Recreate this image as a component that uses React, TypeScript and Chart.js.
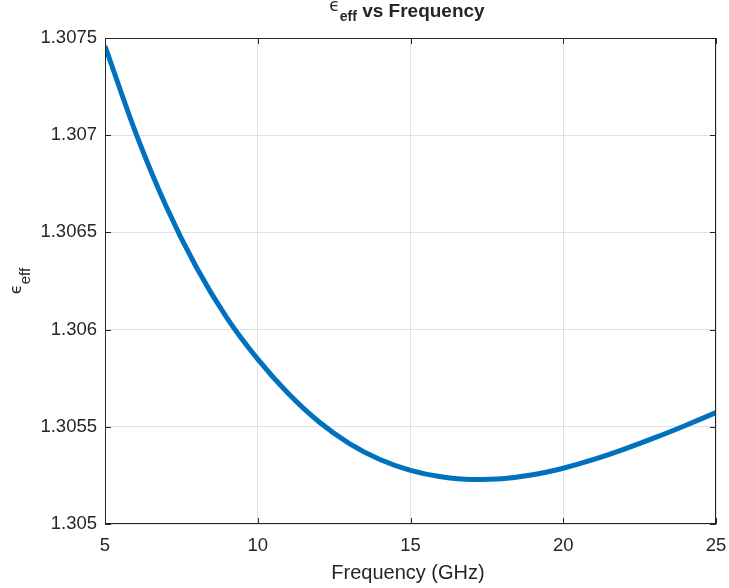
import { useEffect, useRef } from 'react';
import { Chart, registerables } from 'chart.js';

Chart.register(...registerables);

// Data
const frequencyGHz = [5, 6, 7, 8, 9, 10, 11, 12, 13, 14, 15, 16, 17, 18, 19, 20, 21, 22, 23, 24, 25];
const epsilonEff = [
  1.307459, 1.307015, 1.306635, 1.306318, 1.306058, 1.305848, 1.305671, 1.305526, 1.305414, 1.305332,
  1.305276, 1.305243, 1.305229, 1.305233, 1.305253, 1.305287, 1.305332, 1.305385, 1.305444, 1.305507,
  1.305573,
];
const xTickValues = [5, 10, 15, 20, 25];
const xTickLabels = ['5', '10', '15', '20', '25'];
const yTickValues = [1.305, 1.3055, 1.306, 1.3065, 1.307, 1.3075];
const yTickLabels = ['1.305', '1.3055', '1.306', '1.3065', '1.307', '1.3075'];

const FONT = "'Liberation Sans', Arial, Helvetica, sans-serif";
const TEXT = '#262626';

const decorPlugin = {
  id: 'matlabDecor',
  afterDraw(chart: any) {
    const { ctx, chartArea } = chart;
    const { left, right, top, bottom } = chartArea;
    const xs = chart.scales.x;
    const ys = chart.scales.y;
    ctx.save();
    // box
    ctx.strokeStyle = '#262626';
    ctx.lineWidth = 1;
    ctx.strokeRect(left + 0.5, top + 0.5, right - left - 1, bottom - top - 1);
    // inward ticks
    const tl = 6;
    ctx.beginPath();
    xTickValues.forEach((v) => {
      const px = Math.round(xs.getPixelForValue(v)) + 0.5;
      ctx.moveTo(px, bottom);
      ctx.lineTo(px, bottom - tl);
      ctx.moveTo(px, top);
      ctx.lineTo(px, top + tl);
    });
    yTickValues.forEach((v) => {
      const py = Math.round(ys.getPixelForValue(v)) + 0.5;
      ctx.moveTo(left, py);
      ctx.lineTo(left + tl, py);
      ctx.moveTo(right, py);
      ctx.lineTo(right - tl, py);
    });
    ctx.stroke();

    ctx.fillStyle = TEXT;
    ctx.textBaseline = 'alphabetic';
    ctx.textAlign = 'left';

    // title: eps_eff vs Frequency
    const epsFont = `17px 'DejaVu Sans', ${FONT}`;
    const subFont = `bold 14px ${FONT}`;
    const mainFont = `bold 19px ${FONT}`;
    ctx.font = epsFont;
    const wE = ctx.measureText('ϵ').width;
    ctx.font = subFont;
    const wS = ctx.measureText('eff').width;
    ctx.font = mainFont;
    const rest = ' vs Frequency';
    const wR = ctx.measureText(rest).width;
    const total = wE + wS + wR;
    let sx = 407 - total / 2;
    ctx.font = epsFont;
    ctx.fillText('ϵ', sx, 11);
    sx += wE;
    ctx.font = subFont;
    ctx.fillText('eff', sx, 21);
    sx += wS;
    ctx.font = mainFont;
    ctx.fillText(rest, sx, 17);

    // x label
    ctx.font = `20px ${FONT}`;
    ctx.textAlign = 'center';
    ctx.fillText('Frequency (GHz)', 408, 579);

    // y label (rotated)
    ctx.textAlign = 'left';
    const cy = (top + bottom) / 2;
    ctx.translate(0, cy);
    ctx.rotate(-Math.PI / 2);
    const yEpsFont = `16px 'DejaVu Sans', ${FONT}`;
    const ySubFont = `15px ${FONT}`;
    ctx.font = yEpsFont;
    const ywE = ctx.measureText('ϵ').width;
    ctx.font = ySubFont;
    const ywS = ctx.measureText('eff').width;
    let u = -(ywE + ywS) / 2;
    ctx.font = yEpsFont;
    ctx.fillText('ϵ', u, 21);
    u += ywE;
    ctx.font = ySubFont;
    ctx.fillText('eff', u, 30);
    ctx.restore();
  },
};

export default function App() {
  const canvasRef = useRef<HTMLCanvasElement | null>(null);

  useEffect(() => {
    document.body.style.margin = '0';
    const canvas = canvasRef.current;
    if (!canvas) return;
    const points = frequencyGHz.map((f, i) => ({ x: f, y: epsilonEff[i] }));
    const tickFont = { family: FONT, size: 18.5 };
    const chart = new Chart(canvas, {
      type: 'line',
      data: {
        datasets: [
          {
            data: points,
            borderColor: '#0072BD',
            backgroundColor: '#0072BD',
            borderWidth: 5,
            pointRadius: 0,
            fill: false,
            cubicInterpolationMode: 'monotone',
          },
        ],
      },
      options: {
        animation: false,
        responsive: false,
        devicePixelRatio: 1,
        layout: { padding: { left: 0, right: 13, top: 38, bottom: 0 } },
        plugins: {
          legend: { display: false },
          title: { display: false },
          tooltip: { enabled: false },
        },
        scales: {
          x: {
            type: 'linear',
            min: 5,
            max: 25,
            afterFit(scale: any) {
              scale.height = 64;
              scale.paddingLeft = 0;
              scale.paddingRight = 0;
            },
            afterBuildTicks(scale: any) {
              scale.ticks = xTickValues.map((v) => ({ value: v }));
            },
            ticks: {
              autoSkip: false,
              maxRotation: 0,
              padding: 11,
              color: TEXT,
              font: tickFont,
              callback: (_v: any, i: number) => xTickLabels[i],
            },
            grid: { color: '#e0e0e0', lineWidth: 1, drawTicks: false },
            border: { display: false },
          },
          y: {
            type: 'linear',
            min: 1.305,
            max: 1.3075,
            afterFit(scale: any) {
              scale.width = 105;
              scale.paddingTop = 0;
              scale.paddingBottom = 0;
            },
            afterBuildTicks(scale: any) {
              scale.ticks = yTickValues.map((v) => ({ value: v }));
            },
            ticks: {
              autoSkip: false,
              padding: 8,
              color: TEXT,
              font: tickFont,
              callback: (_v: any, i: number) => yTickLabels[i],
            },
            grid: { color: '#e0e0e0', lineWidth: 1, drawTicks: false },
            border: { display: false },
          },
        },
      },
      plugins: [decorPlugin],
    });
    return () => chart.destroy();
  }, []);

  return (
    <div style={{ width: 729, height: 588, background: '#fff' }}>
      <canvas ref={canvasRef} width={729} height={588} />
    </div>
  );
}
